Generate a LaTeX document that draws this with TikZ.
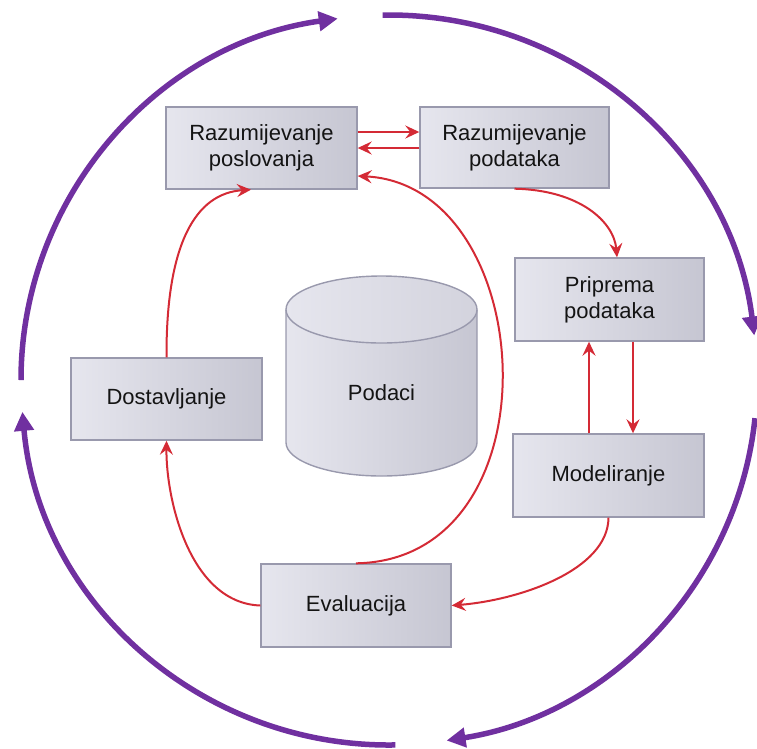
\documentclass[tikz,border=0pt]{standalone}
\usepackage{fontspec}
\setmainfont{Liberation Sans}
\usetikzlibrary{arrows.meta}
\definecolor{purp}{HTML}{7030A0}
\definecolor{redc}{HTML}{D42A35}
\definecolor{boxl}{HTML}{E6E6EE}
\definecolor{boxd}{HTML}{C6C6D2}
\definecolor{boxb}{HTML}{9999AD}
\tikzset{
  stage/.style={draw=boxb, line width=1.4pt, left color=boxl, right color=boxd,
    minimum width=190pt, minimum height=82pt, align=center, inner sep=0pt,
    font=\fontsize{22}{26}\selectfont, text=black!92},
  redarr/.style={draw=redc, line width=2pt, -{Stealth[length=14pt,width=13pt,inset=5pt]}},
  outer/.style={draw=purp, line width=5.5pt, -{Triangle[length=19pt,width=19pt]}}
}
\begin{document}
\begin{tikzpicture}[x=1pt,y=-1pt]
\useasboundingbox (0,0) rectangle (757,748);
% outer cycle
\coordinate (oc) at (389,380);
\draw[outer] (oc) ++(180:368pt and 365pt) arc[start angle=180, end angle=98, x radius=368pt, y radius=365pt];
\draw[outer] (oc) ++(91:368pt and 365pt) arc[start angle=91, end angle=7, x radius=368pt, y radius=365pt];
\draw[outer] (oc) ++(-6:368pt and 365pt) arc[start angle=-6, end angle=-81, x radius=368pt, y radius=365pt];
\draw[outer] (oc) ++(-89:368pt and 365pt) arc[start angle=-89, end angle=-175, x radius=368pt, y radius=365pt];
% cylinder
\path[left color=boxl, right color=boxd] (286,309.5) -- (286,442.5)
  arc[start angle=180, end angle=360, x radius=95.5pt, y radius=33.5pt] -- (477,309.5)
  arc[start angle=0, end angle=180, x radius=95.5pt, y radius=33.5pt] -- cycle;
\draw[boxb, line width=1.4pt] (286,309.5) -- (286,442.5)
  arc[start angle=180, end angle=360, x radius=95.5pt, y radius=33.5pt] -- (477,309.5);
\draw[boxb, line width=1.4pt, left color=boxl, right color=boxd!60!boxl] (381.5,309.5) ellipse[x radius=95.5pt, y radius=33.5pt];
\node[font=\fontsize{22}{26}\selectfont, text=black!92] (data) at (381.5,393) {Podaci};
% stages
\node[stage, minimum width=191pt] (rp) at (261.5,148) {Razumijevanje\\poslovanja};
\node[stage, minimum width=189pt, minimum height=81pt] (rd) at (514.5,147.5) {Razumijevanje\\podataka};
\node[stage, minimum width=189pt, minimum height=83pt] (pp) at (609.5,299.5) {Priprema\\podataka};
\node[stage, minimum width=191pt, minimum height=83pt] (mo) at (608.5,475.5) {Modeliranje};
\node[stage, minimum width=190pt, minimum height=83pt] (ev) at (356,605.5) {Evaluacija};
\node[stage, minimum width=191pt, minimum height=82pt] (do) at (166.5,399) {Dostavljanje};
% connectors
\draw[redarr] (rp.east |- 0,132) -- (rd.west |- 0,132);
\draw[redarr] (rd.west |- 0,148) -- (rp.east |- 0,148);
\draw[redarr] (rd.south) .. controls (580,190) and (614,222) .. (pp.north -| 617,0);
\draw[redarr] (pp.south -| 633,0) -- (mo.north -| 633,0);
\draw[redarr] (mo.north -| 589,0) -- (pp.south -| 589,0);
\draw[redarr] (mo.south) .. controls (608,570) and (520,600) .. (ev.east);
\draw[redarr] (ev.west) .. controls (190,603) and (166,500) .. (do.south);
\draw[redarr] (do.north) .. controls (166,245) and (195,193) .. (rp.south -| 251,0);
\draw[redarr] (ev.north) .. controls (560,560) and (540,185) .. (rp.east |- 0,176);
\end{tikzpicture}
\end{document}
